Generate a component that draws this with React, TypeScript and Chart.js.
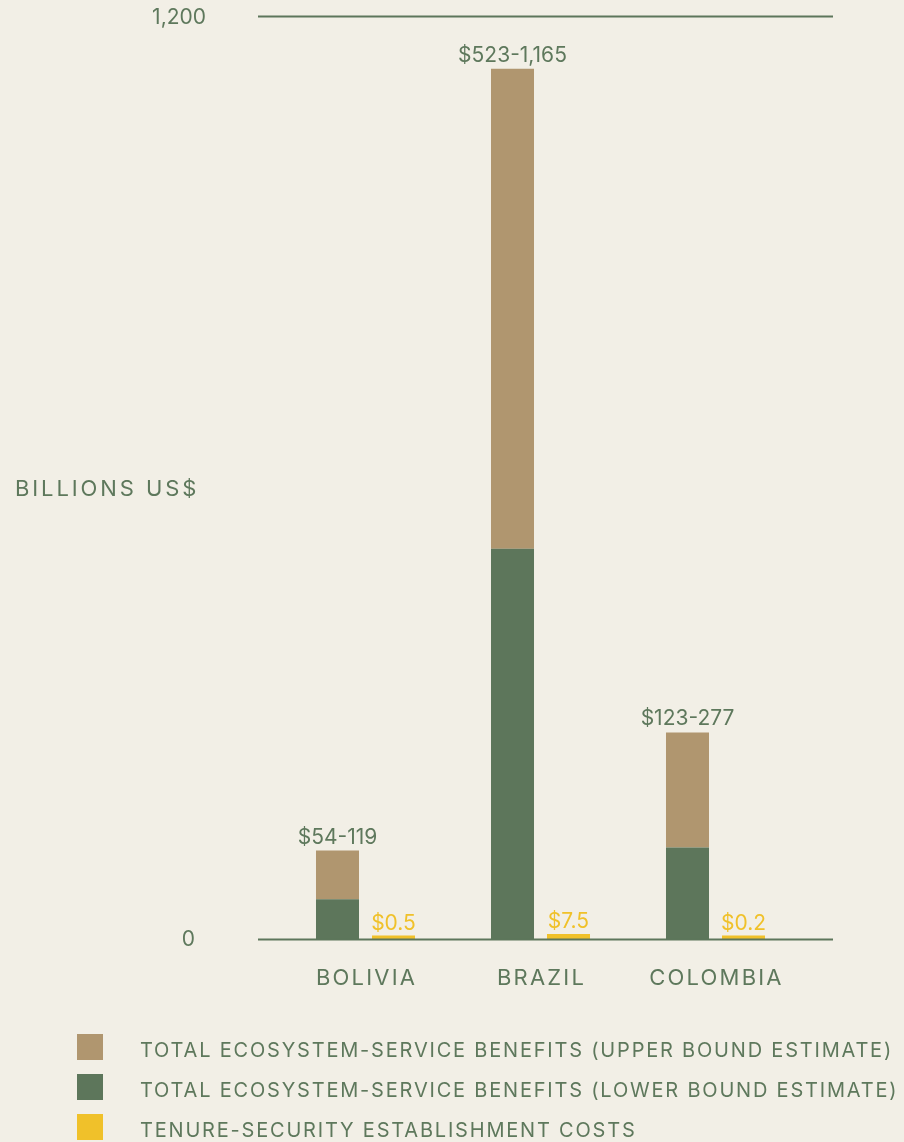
import React, { useEffect, useRef } from "react";
import { Chart, registerables } from "chart.js";

Chart.register(...registerables);

const countries = ["BOLIVIA", "BRAZIL", "COLOMBIA"];
const lowerBound = [54, 523, 123];
const upperBound = [119, 1165, 277];
const benefitLabels = ["$54-119", "$523-1,165", "$123-277"];
const tenureCosts = [0.5, 7.5, 0.2];
const costLabels = ["$0.5", "$7.5", "$0.2"];
const yTickValues = [0, 1235];
const yTickLabels = ["0", "1,200"];
const yAxisTitle = "BILLIONS US$";
const legendLabels = [
  "TOTAL ECOSYSTEM-SERVICE BENEFITS (UPPER BOUND ESTIMATE)",
  "TOTAL ECOSYSTEM-SERVICE BENEFITS (LOWER BOUND ESTIMATE)",
  "TENURE-SECURITY ESTABLISHMENT COSTS",
];

const BG = "#F2EFE6";
const GREEN = "#5D765B";
const TAN = "#B0966F";
const YELLOW = "#F0C12A";
const TEXT = "#5E785C";
const FONT = "Inter, 'Noto Sans', sans-serif";

const W = 904;
const H = 1142;

export default function App() {
  const ref = useRef<HTMLCanvasElement | null>(null);

  useEffect(() => {
    if (!ref.current) return;
    const upperDiff = upperBound.map((u, i) => u - lowerBound[i]);

    const decor = {
      id: "decor",
      beforeDraw(chart: any) {
        const ctx = chart.ctx;
        ctx.save();
        ctx.fillStyle = BG;
        ctx.fillRect(0, 0, chart.width, chart.height);
        ctx.restore();
      },
      afterDatasetsDraw(chart: any) {
        const ctx = chart.ctx;
        const area = chart.chartArea;
        const y = chart.scales.y;
        const x = chart.scales.x;
        ctx.save();
        // axis lines at tick values
        ctx.strokeStyle = GREEN;
        ctx.lineWidth = 2;
        yTickValues.forEach((v) => {
          const py = y.getPixelForValue(v);
          ctx.beginPath();
          ctx.moveTo(area.left - 20, py);
          ctx.lineTo(area.right + 30, py);
          ctx.stroke();
        });
        // tick labels
        ctx.fillStyle = TEXT;
        ctx.font = `21px ${FONT}`;
        ctx.textAlign = "right";
        ctx.textBaseline = "middle";
        ctx.fillText(yTickLabels[0], area.left - 83, y.getPixelForValue(yTickValues[0]));
        ctx.fillText(yTickLabels[1], area.left - 72, y.getPixelForValue(yTickValues[1]) + 1);
        // axis title
        ctx.textAlign = "left";
        (ctx as any).letterSpacing = "2.9px";
        ctx.font = `22px ${FONT}`;
        ctx.fillText(yAxisTitle, 15, (area.top + area.bottom) / 2 + 11);
        // x labels
        (ctx as any).letterSpacing = "2.2px";
        ctx.textAlign = "center";
        countries.forEach((c, i) => {
          ctx.fillText(c, x.getPixelForValue(i) + 1, area.bottom + 39);
        });
        // data labels
        (ctx as any).letterSpacing = "0px";
        ctx.font = `21px ${FONT}`;
        ctx.textBaseline = "alphabetic";
        const metaTop = chart.getDatasetMeta(1);
        metaTop.data.forEach((bar: any, i: number) => {
          ctx.fillStyle = TEXT;
          ctx.fillText(benefitLabels[i], bar.x, bar.y - 7);
        });
        const metaCost = chart.getDatasetMeta(2);
        metaCost.data.forEach((bar: any, i: number) => {
          ctx.fillStyle = YELLOW;
          ctx.fillText(costLabels[i], bar.x, bar.y - 6);
        });
        // legend
        const colors = [TAN, GREEN, YELLOW];
        ctx.font = `20px ${FONT}`;
        (ctx as any).letterSpacing = "1.8px";
        ctx.textAlign = "left";
        ctx.textBaseline = "middle";
        legendLabels.forEach((l, i) => {
          const top = 1034 + i * 40;
          ctx.fillStyle = colors[i];
          ctx.fillRect(77, top, 26, 26);
          ctx.fillStyle = TEXT;
          ctx.fillText(l, 140, top + 17);
        });
        ctx.restore();
      },
    };

    const chart = new Chart(ref.current, {
      type: "bar",
      data: {
        labels: countries,
        datasets: [
          {
            label: legendLabels[1],
            data: lowerBound,
            backgroundColor: GREEN,
            stack: "benefits",
          },
          {
            label: legendLabels[0],
            data: upperDiff,
            backgroundColor: TAN,
            stack: "benefits",
          },
          {
            label: legendLabels[2],
            data: tenureCosts,
            backgroundColor: YELLOW,
            stack: "costs",
            minBarLength: 4,
          },
        ],
      },
      options: {
        animation: false,
        responsive: false,
        maintainAspectRatio: false,
        devicePixelRatio: 1,
        categoryPercentage: 0.64,
        barPercentage: 0.768,
        layout: {
          padding: { left: 278, right: W - 803, top: 16.5, bottom: H - 939.5 },
        },
        plugins: {
          legend: { display: false },
          tooltip: { enabled: false },
        },
        scales: {
          x: { display: false, stacked: true },
          y: { display: false, stacked: true, min: 0, max: 1235 },
        },
      } as any,
      plugins: [decor],
    });
    return () => chart.destroy();
  }, []);

  return (
    <div
      style={{
        position: "absolute",
        left: 0,
        top: 0,
        width: W,
        height: H,
        background: BG,
        overflow: "hidden",
      }}
    >
      <canvas ref={ref} width={W} height={H} style={{ display: "block" }} />
    </div>
  );
}
